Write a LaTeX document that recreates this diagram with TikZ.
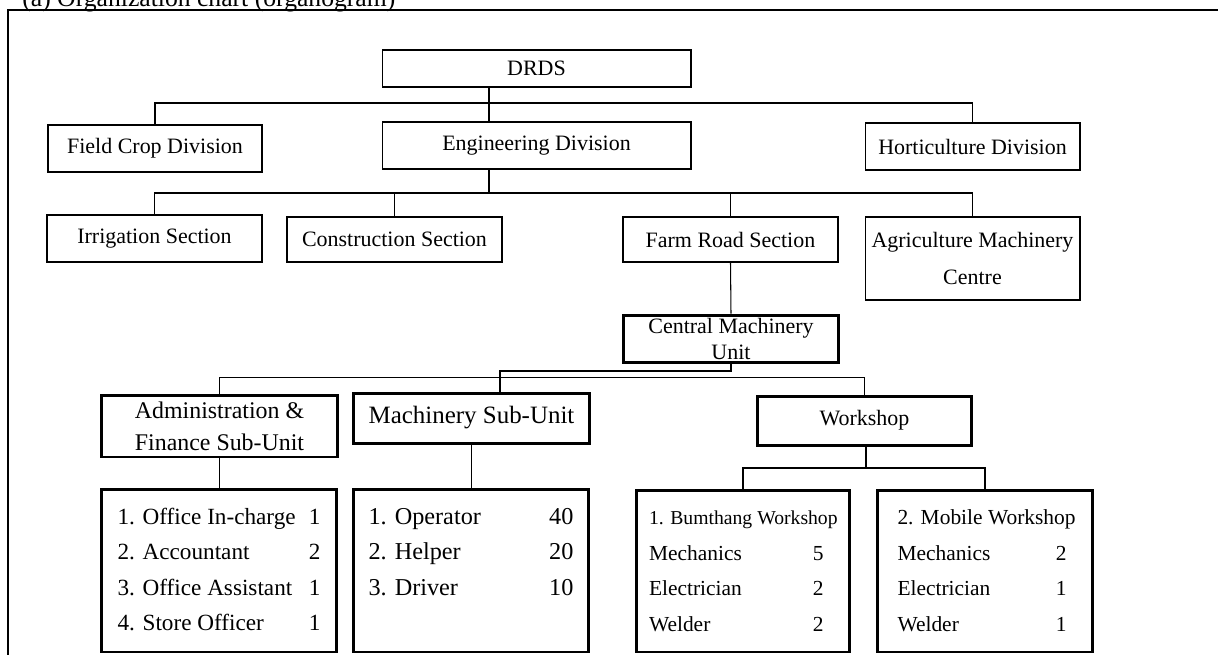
\documentclass[tikz,border=0pt]{standalone}
\usepackage{fontspec}
\setmainfont{Liberation Serif}

\begin{document}
\begin{tikzpicture}[x=0.02cm, y=-0.02cm,
    unitbox/.style={draw, line width=0.6pt, inner sep=0pt, align=center,
        font=\fontsize{12.5}{15}\selectfont},
    subbox/.style={unitbox, line width=1.7pt},
    staffbox/.style={draw, line width=1.7pt, inner sep=0pt,
        font=\fontsize{13.8}{20.2}\selectfont},
    link/.style={line width=0.6pt}]

    % ===== PAGE CROP AND FRAME =====
    \useasboundingbox (0,0) rectangle (1218,654);
    \clip (0,0) rectangle (1218,654);
    \node[anchor=base west, inner sep=0pt, font=\fontsize{14.6}{17}\selectfont]
        (caption) at (22,6) {(a) Organization chart (organogram)};
    \draw[link] (8,660) -- (8,10) -- (1230,10);

    % ===== TOP LEVEL =====
    \node[unitbox, minimum width=6.18cm, minimum height=0.74cm] (drds) at (536.5,68.5) {DRDS};

    % ===== DIVISIONS =====
    \node[unitbox, minimum width=4.28cm, minimum height=0.94cm] (fieldcrop) at (155,148.5) {Field Crop Division};
    \node[unitbox, minimum width=6.18cm, minimum height=0.94cm] (engdiv) at (536.5,145.5) {Engineering Division};
    \node[unitbox, minimum width=4.30cm, minimum height=0.94cm] (horti) at (972.5,146.5) {Horticulture Division};

    \coordinate (divbus) at (489,103);
    \draw[link] (drds.south -| divbus) -- (engdiv.north -| divbus);
    \draw[link] (fieldcrop.north) |- (divbus) -| (horti.north);

    % ===== SECTIONS =====
    \node[unitbox, minimum width=4.30cm, minimum height=0.94cm] (irrig) at (154.5,238.5) {Irrigation Section};
    \node[unitbox, minimum width=4.30cm, minimum height=0.90cm] (constr) at (394.5,239.5) {Construction Section};
    \node[unitbox, minimum width=4.30cm, minimum height=0.90cm] (farmroad) at (730.5,239.5) {Farm Road Section};
    \node[unitbox, minimum width=4.30cm, minimum height=1.66cm,
        font=\fontsize{12.5}{21}\selectfont] (agri) at (972.5,258.5) {Agriculture Machinery\\Centre};

    \coordinate (secbus) at (489,193);
    \draw[link] (engdiv.south -| secbus) -- (secbus);
    \draw[link] (irrig.north) |- (secbus) -| (agri.north);
    \draw[link] (constr.north) -- (constr.north |- secbus);
    \draw[link] (farmroad.north) -- (farmroad.north |- secbus);

    % ===== CENTRAL MACHINERY UNIT =====
    \node[subbox, minimum width=4.32cm, minimum height=0.94cm,
        font=\fontsize{12.5}{14.8}\selectfont] (cmu) at (731,338.5) {Central Machinery\\Unit};
    \draw[link] (farmroad.south) -- (cmu.north);

    % ===== SUB-UNITS =====
    \node[subbox, minimum width=4.74cm, minimum height=1.24cm,
        font=\fontsize{13.6}{18.2}\selectfont] (admin) at (219.5,426) {Administration \&\\Finance Sub-Unit};
    \node[subbox, minimum width=4.74cm, minimum height=1.00cm,
        font=\fontsize{14.2}{17}\selectfont] (machsub) at (471.5,418) {Machinery Sub-Unit};
    \node[subbox, minimum width=4.30cm, minimum height=0.98cm] (workshop) at (864.5,420.5) {Workshop};

    \coordinate (cmustep) at (500,371);
    \coordinate (subbus) at (500,377.5);
    \draw[link] (cmu.south) |- (cmustep) -- (machsub.north -| cmustep);
    \draw[link] (admin.north) |- (subbus) -| (workshop.north);

    % ===== STAFF LISTS =====
    \node[staffbox, minimum width=4.72cm, minimum height=3.26cm,
        font=\fontsize{13.2}{20.2}\selectfont] (adminlist) at (219,570.5) {%
        \begin{tabular*}{4.06cm}{@{}l@{\extracolsep{\fill}}r@{}}
            1. Office In-charge & 1\\
            2. Accountant & 2\\
            3. Office Assistant & 1\\
            4. Store Officer & 1
        \end{tabular*}};
    \node[staffbox, minimum width=4.72cm, minimum height=3.26cm] (machlist) at (471,570.5) {%
        \begin{tabular*}{4.10cm}{@{}l@{\extracolsep{\fill}}r@{}}
            1. Operator & 40\\
            2. Helper & 20\\
            3. Driver & 10\\
            \mbox{} &
        \end{tabular*}};
    \node[staffbox, minimum width=4.28cm, minimum height=3.24cm,
        font=\fontsize{12.2}{20.2}\selectfont] (bumlist) at (743,571) {%
        \begin{tabular*}{3.76cm}{@{}l@{\extracolsep{\fill}}r@{\hspace{0.28cm}}}
            \multicolumn{2}{@{}l@{}}{\fontsize{11.2}{20.2}\selectfont 1. Bumthang Workshop}\\
            Mechanics & 5\\
            Electrician & 2\\
            Welder & 2
        \end{tabular*}};
    \node[staffbox, minimum width=4.32cm, minimum height=3.24cm,
        font=\fontsize{12.2}{20.2}\selectfont] (mobilelist) at (985,571) {%
        \begin{tabular*}{3.50cm}{@{}l@{\extracolsep{\fill}}r@{\hspace{0.18cm}}}
            \multicolumn{2}{@{}l@{}}{2. Mobile Workshop}\\
            Mechanics & 2\\
            Electrician & 1\\
            Welder & 1
        \end{tabular*}};

    \draw[link] (admin.south) -- (adminlist.north -| admin.south);
    \draw[link] (machsub.south) -- (machlist.north -| machsub.south);

    \coordinate (listbus) at (866,468);
    \draw[link] (workshop.south -| listbus) -- (listbus);
    \draw[link] (bumlist.north) |- (listbus) -| (mobilelist.north);

\end{tikzpicture}
\end{document}
